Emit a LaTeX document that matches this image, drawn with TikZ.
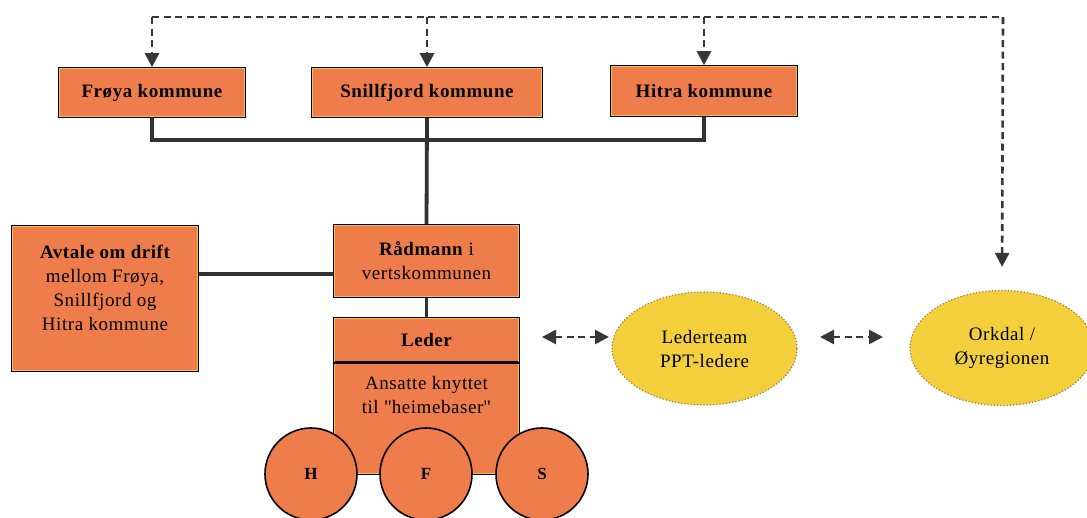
\documentclass[tikz,border=0pt]{standalone}
\usepackage{fontspec}
\setmainfont{Liberation Serif}[LetterSpace=3]
\usetikzlibrary{arrows.meta,shapes.geometric}
\definecolor{boxor}{RGB}{239,125,75}
\definecolor{rimc}{RGB}{246,190,70}
\definecolor{ellyel}{RGB}{243,207,60}
\definecolor{ellrim}{RGB}{150,130,80}
\definecolor{linegr}{RGB}{50,50,50}
\definecolor{arrgr}{RGB}{55,55,55}
\newcommand{\straightq}{{\addfontfeature{Ligatures=TeXOff}"}}
\tikzset{
  box/.style={draw=black, line width=1.6pt, fill=boxor, rectangle, inner sep=0pt,
     font=\fontsize{19}{24}\selectfont, align=center},
  rim/.style={draw=rimc, line width=0.9pt},
  txt/.style={font=\fontsize{19}{24}\selectfont, align=center, inner sep=0pt},
  elly/.style={ellipse, fill=ellyel, draw=ellrim, dotted, line width=1.2pt, inner sep=0pt},
  circ/.style={circle, draw=black, line width=1.6pt, fill=boxor, minimum size=92pt, inner sep=0pt,
     font=\fontsize{17}{20}\selectfont\bfseries},
  thick line/.style={draw=linegr, line width=3.8pt, line join=miter},
  dash link/.style={draw=arrgr, line width=2.6pt, dash pattern=on 7pt off 4.5pt,
     -{Triangle[width=14pt,length=14pt]}},
  dash both/.style={draw=arrgr, line width=2.6pt, dash pattern=on 7pt off 4.5pt,
     {Triangle[width=14pt,length=14pt]}-{Triangle[width=14pt,length=14pt]}},
}
\begin{document}
\begin{tikzpicture}[x=1pt,y=-1pt]
\useasboundingbox[fill=white] (0,0) rectangle (1087,517);

% top boxes
\node[box, minimum width=186pt, minimum height=49pt] (froya) at (152,92.5)
  {\bfseries Frøya kommune};
\node[box, minimum width=230pt, minimum height=49pt] (snill) at (427,92.5)
  {\bfseries Snillfjord kommune};
\node[box, minimum width=186pt, minimum height=50pt] (hitra) at (704,91)
  {\bfseries Hitra kommune};

% Avtale box
\node[box, minimum width=186pt, minimum height=145pt] (avtale) at (105,298.5) {};

% Radmann
\node[box, minimum width=185pt, minimum height=72pt] (radmann) at (426.5,261)
  {\textbf{Rådmann} i\\vertskommunen};

% Leder
\node[box, minimum width=185pt, minimum height=44pt] (leder) at (426.5,340)
  {\bfseries Leder};
\node[box, minimum width=185pt, minimum height=112pt] (ansatte) at (426.5,418) {};

% inner rims of the boxes
\foreach \n in {froya,snill,hitra,avtale,radmann}
  \draw[rim] ([shift={(1.7pt,-1.7pt)}]\n.north west) rectangle ([shift={(-1.7pt,1.7pt)}]\n.south east);
\draw[rim] ([shift={(1.7pt,-1.7pt)}]leder.north west) rectangle ([shift={(-1.7pt,1.7pt)}]ansatte.south east);
\draw[draw=black, line width=1.6pt] (leder.south west) -- (leder.south east);

\node[txt] (avtaletext) at ([yshift=11pt]avtale.center)
  {\bfseries Avtale om drift\\mellom Frøya,\\Snillfjord og\\Hitra kommune};
\node[txt] (ansattetext) at ([yshift=23.5pt]ansatte.center)
  {Ansatte knyttet\\til \straightq heimebaser\straightq};

% circles
\node[circ] (h) at (311,474) {H};
\node[circ] (f) at (426,474) {F};
\node[circ] (s) at (542,474) {S};

% ellipses
\node[elly, minimum width=185pt, minimum height=113pt] (lederteam) at (704.5,348.5) {};
\node[txt] (lederteamtext) at (lederteam.center) {Lederteam\\PPT-ledere};
\node[elly, minimum width=184pt, minimum height=115pt] (orkdal) at (1002,348) {};
\node[txt] (orkdaltext) at (orkdal.center) {Orkdal /\\Øyregionen};

% solid connectors
\draw[thick line] (froya.south) -- (froya.south |- 0,140) -- (hitra.south |- 0,140) -- (hitra.south);
\draw[thick line] (snill.south) -- (radmann.north);
\draw[thick line] (radmann.south) -- (leder.north);
\draw[thick line] (avtale.east |- 0,274) -- (radmann.west |- 0,274);

% dashed top line
\coordinate (tl) at (152,17);
\coordinate (tr) at (1003,17);
\draw[draw=arrgr, line width=2.6pt, dash pattern=on 7pt off 4.5pt] (tl) -- (tr);
\draw[dash link] (tl) -- (froya.north);
\draw[dash link] (snill.north |- tl) -- (snill.north);
\draw[dash link] (hitra.north |- tl) -- (hitra.north);
\draw[dash link, shorten >=23pt] (tr) -- (orkdal.north);

% double arrows
\coordinate (a1) at (542,337);
\coordinate (a2) at (609,337);
\coordinate (b1) at (820,337);
\coordinate (b2) at (883,337);
\draw[dash both] (a1) -- (a2);
\draw[dash both] (b1) -- (b2);
\end{tikzpicture}
\end{document}
